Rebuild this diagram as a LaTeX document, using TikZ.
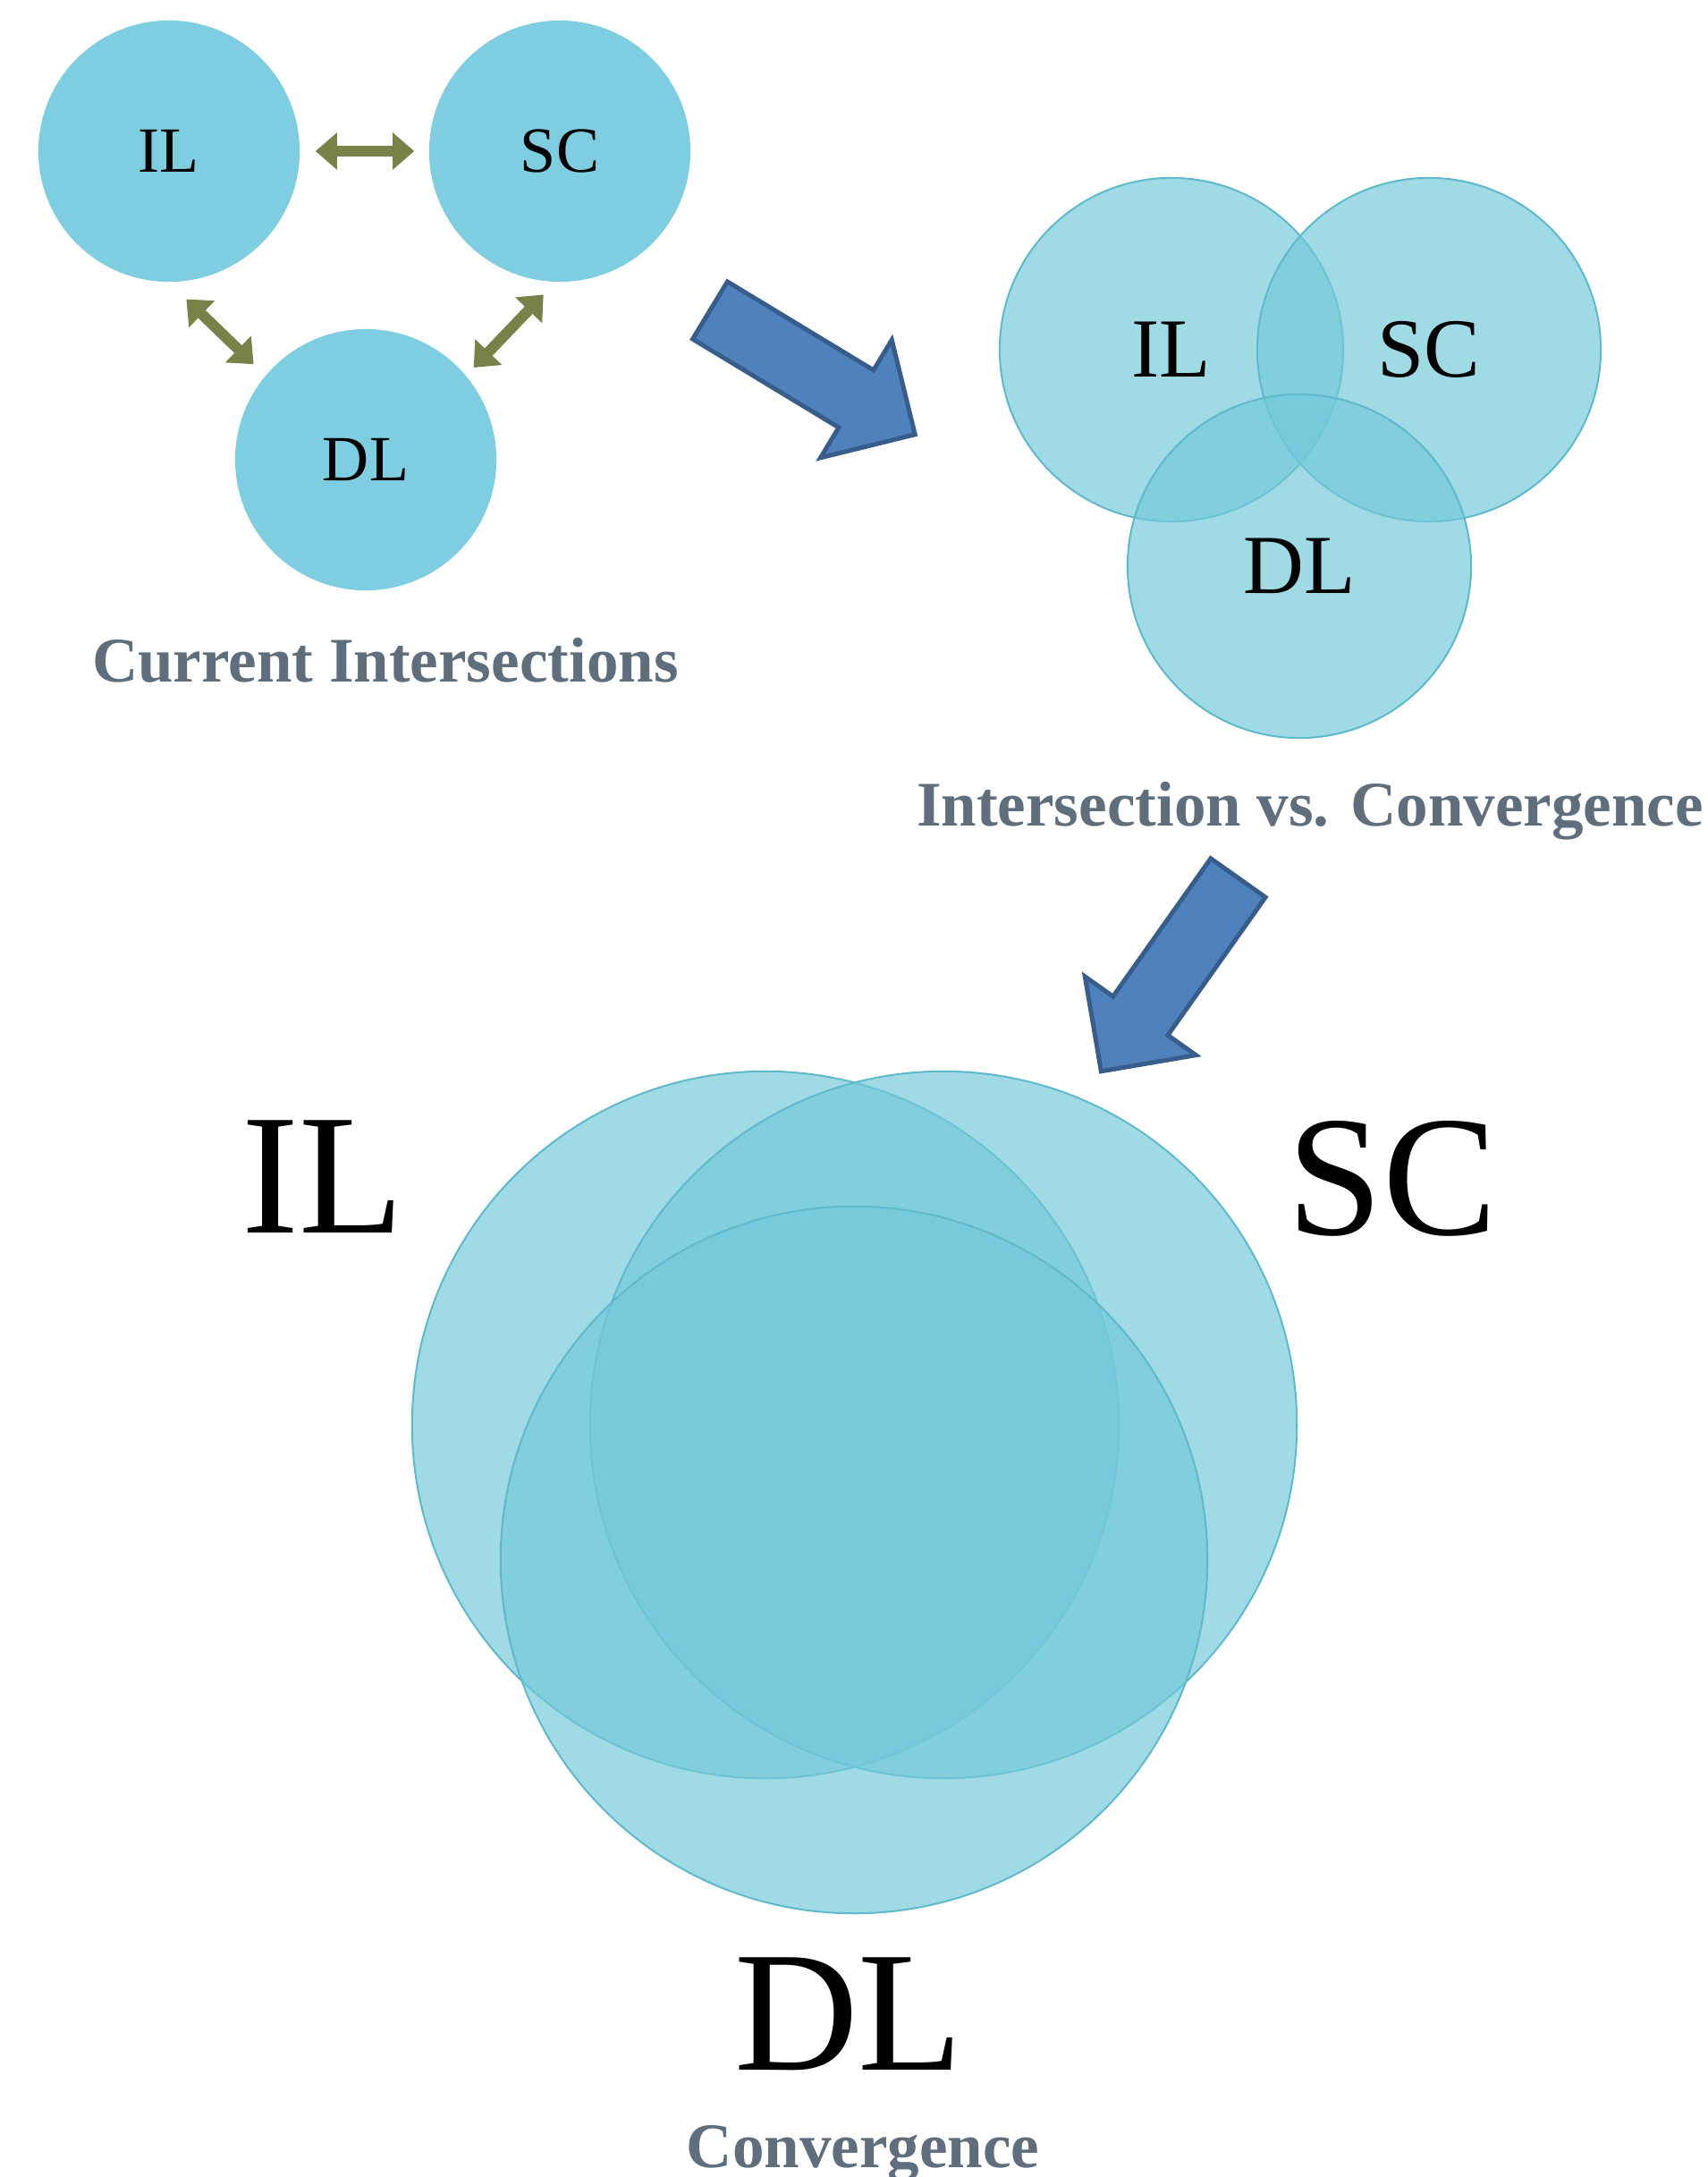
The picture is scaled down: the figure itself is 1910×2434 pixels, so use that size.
\documentclass[tikz,border=0pt]{standalone}
\usepackage{fontspec}
\setmainfont{Liberation Serif}
\usepackage{tikz}
\usetikzlibrary{arrows.meta}

\definecolor{circfill}{RGB}{126,205,224}
\definecolor{vennfill}{RGB}{115,201,218}
\definecolor{venndraw}{RGB}{95,185,205}
\definecolor{olivearrow}{RGB}{122,129,72}
\definecolor{bigblue}{RGB}{79,129,189}
\definecolor{bigblueline}{RGB}{56,93,138}
\definecolor{titlegray}{RGB}{94,110,124}

\begin{document}
\begin{tikzpicture}[x=0.01cm,y=-0.01cm,
    small_node/.style={circle,fill=circfill,minimum size=2.92cm,inner sep=0pt,font=\fontsize{20.5}{24}\selectfont},
    venn_node/.style={circle,fill=vennfill,fill opacity=0.68,text opacity=1,draw=venndraw,line width=0.57pt,inner sep=0pt},
    mid_venn/.style={venn_node,minimum size=3.84cm,font=\fontsize{26.7}{30}\selectfont},
    big_venn/.style={venn_node,minimum size=7.9cm},
    big_label/.style={font=\fontsize{54.6}{60}\selectfont,inner sep=0pt},
    title_label/.style={font=\fontsize{20.2}{24}\selectfont\bfseries,text=titlegray,anchor=base,inner sep=0pt},
    dbl_arrow/.style={olivearrow,line width=0.12cm,{Triangle[length=0.24cm,width=0.4cm]}-{Triangle[length=0.24cm,width=0.4cm]}},
    block_arrow/.style={fill=bigblue,draw=bigblueline,line width=0.05cm}]
    \fill[white] (0,0) rectangle (1910,2434);
    \useasboundingbox (0,0) rectangle (1910,2434);

    % current intersections
    \node[small_node] (il) at (189,169) {IL};
    \node[small_node] (sc) at (626,169) {SC};
    \node[small_node] (dl) at (409,514) {DL};

    \draw[dbl_arrow, shorten <=0.17cm, shorten >=0.16cm] (il.east) -- (sc.west);
    \draw[dbl_arrow, shorten <=0.27cm, shorten >=0.18cm] (il.-90) -- (dl.140);
    \draw[dbl_arrow, shorten <=0.19cm, shorten >=0.12cm] (sc.-92) -- (dl.40);

    \node[title_label] (curlbl) at (431,762) {Current Intersections};

    % block arrows
    \draw[block_arrow, shift={(794,347)}, rotate=-31.2]
        (0,-37.5) -- (191,-37.5) -- (191,-77) -- (268,0) -- (191,77) -- (191,37.5) -- (0,37.5) -- cycle;
    \draw[block_arrow, shift={(1384.5,981.5)}, rotate=-125.3]
        (0,-37.5) -- (189,-37.5) -- (189,-76) -- (265,0) -- (189,76) -- (189,37.5) -- (0,37.5) -- cycle;

    % intersection
    \node[mid_venn] (il2) at (1310,391) {IL};
    \node[mid_venn] (sc2) at (1598,391) {SC};
    \node[mid_venn] (dl2) at (1453,633) {DL};

    \node[title_label] (intlbl) at (1465,923) {Intersection vs. Convergence};

    % convergence
    \node[big_venn] (il3) at (856,1593) {};
    \node[big_venn] (sc3) at (1055,1593) {};
    \node[big_venn] (dl3) at (955,1744) {};

    \node[big_label] (il3lbl) at (361,1316) {IL};
    \node[big_label] (sc3lbl) at (1557,1318) {SC};
    \node[big_label] (dl3lbl) at (949,2252) {DL};

    \node[title_label] (convlbl) at (965,2423) {Convergence};
\end{tikzpicture}
\end{document}
